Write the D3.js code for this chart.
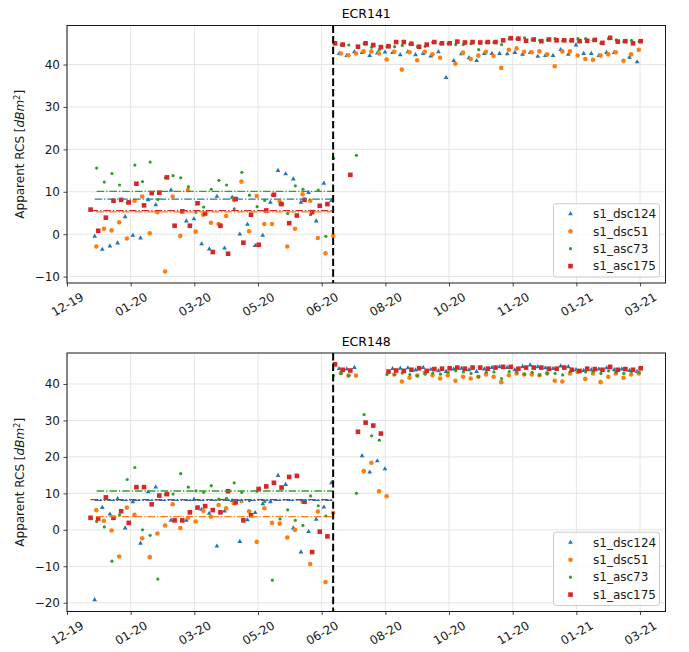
<!DOCTYPE html>
<meta charset="utf-8">
<title>ECR141 / ECR148</title>
<body>
<script src="https://cdn.jsdelivr.net/npm/d3@7"></script>
<style>
html, body {
    margin: 0;
    background: #fff;
}
svg {
    display: block;
    font-family: "DejaVu Sans", sans-serif;
}
</style>
<script>
// tracks, in plotting order
var seriesNames = ["s1_dsc124", "s1_dsc51", "s1_asc73", "s1_asc175"];
var seriesColors = ["#1f77b4", "#ff7f0e", "#2ca02c", "#d62728"];

// first acquisition of each track, then one pass every 6 days
var firstPass = ["2019-12-28 17:00", "2019-12-30 00:00", "2019-12-30 07:00", "2019-12-25 12:00"];
var revisitDays = 6;

var eventDate = "2020-07-03";
var xStart = "2019-12-07", xEnd = "2021-03-21";
var tickDates = ["2019-12-07", "2020-01-26", "2020-03-16", "2020-05-05", "2020-06-24",
                 "2020-08-13", "2020-10-02", "2020-11-21", "2021-01-10", "2021-03-01"];

// ECR141, one value per pass (null = no point)
var ecr141_dsc124 = [-0.5, -3.6, -2.8, -2.1, 4.1, -0.3, -0.9, 8.1, 6.9, null, 10.4, null, 3.1, 3.6, -2.3, -3.5,
    8.9, -3.3, 8.7, 0.0, 2.3, -2.7, -0.3, 7.5, 15.0, 14.2, 13.0, 7.5, 9.8, 3.1, 12.0, 7.9,
    42.6, 42.1, 43.0, 42.8, 42.1, 42.7, 42.9, 42.8, 42.3, 43.0, 42.3, 42.6, 42.0, 43.0, 36.9, 40.9,
    42.5, 41.6, 40.9, 42.6, 42.6, 42.6, 42.5, 42.8, 42.4, 42.8, 41.9, 42.1, 42.1, 43.5, 42.4, 44.6,
    42.6, 42.6, 42.1, 42.8, 42.8, null, 41.7, 40.6];
var ecr141_dsc51 = [-2.9, 1.3, 0.9, 2.8, -1.0, 7.9, 8.9, 0.2, 5.2, -8.8, 8.9, -0.4, 10.4, 0.6, 4.6, 2.7,
    2.4, 4.3, 8.1, 12.4, 0.7, 9.0, 2.4, 2.4, 7.7, -2.9, 1.3, 9.4, 7.9, -0.9, -4.5, -0.3,
    42.6, 42.2, 42.6, 43.1, 43.1, 42.6, 41.2, 43.0, 38.8, 42.9, 41.0, 43.0, 42.4, 41.6, null, 40.2,
    42.8, 41.3, 42.1, 43.0, 42.0, 39.2, 43.5, 43.8, 43.0, 42.9, 43.1, 42.4, 39.6, 43.1, 43.1, 42.1,
    41.3, 41.1, 42.1, 42.4, 42.9, 40.9, 42.4, 43.5];
var ecr141_asc73 = [15.6, 12.3, 14.3, 11.6, 7.4, 16.3, 12.4, 17.0, 8.2, 13.3, 13.8, 13.3, 11.2, 5.2, 6.4, 10.6,
    12.7, 11.6, 6.0, 14.6, 9.2, 6.5, 8.0, 9.2, 7.0, 4.9, 11.4, 10.6, 4.6, 10.4, -0.5, 17.9,
    44.6, 44.6, 18.6, 44.9, 44.1, 43.5, 44.2, 44.2, 44.5, 44.8, 44.2, 44.3, 45.2, 44.9, 44.9, 44.7,
    44.7, 44.9, 43.5, 45.2, 45.2, 44.7, 46.1, 46.0, 46.3, 45.8, 45.7, 45.8, 46.1, 45.6, 45.6, 46.1,
    46.1, 45.7, 45.0, 46.1, 45.8, 45.4, 45.7, 45.4];
var ecr141_asc175 = [5.8, 0.8, 3.9, 7.9, 8.1, 7.5, 11.9, 6.8, 9.7, 9.8, 13.4, 2.0, 5.4, 2.0, 7.3, 4.9,
    -4.2, 2.0, -4.6, 8.3, -2.0, 4.6, -2.5, 5.6, 9.3, 7.1, 2.6, 4.4, 8.1, 5.2, 6.7, 7.1,
    45.0, 44.7, 14.0, 44.2, 45.0, 44.6, 44.1, 44.3, 45.3, 45.3, 44.9, 44.2, 44.7, 45.3, 45.0, 45.0,
    45.4, 45.2, 45.3, 45.2, 45.3, 45.3, 45.7, 46.2, 46.1, 45.6, 45.9, 45.5, 45.9, 45.7, 45.7, 45.7,
    45.5, 45.6, 45.8, 45.1, 46.3, 45.4, 45.5, 45.0, 45.5];

// ECR148
var ecr148_dsc124 = [-19.2, 6.1, 4.3, 8.5, 0.5, 7.7, -3.7, 10.4, 11.7, null, 2.6, null, 2.6, 8.3, 5.6, 4.5,
    -4.5, 5.1, 8.0, -3.2, 2.7, 4.7, 7.1, 7.7, 14.9, 12.4, 0.5, -6.1, -0.5, 2.9, 6.2, 12.9,
    44.2, 44.1, 44.5, 20.3, 15.8, 18.9, 16.7, 44.2, 44.3, 44.4, 43.8, 44.5, 44.0, 43.6, 43.4, 44.1,
    44.3, 43.9, 43.4, 44.1, 44.5, 44.7, 44.5, 43.9, 44.8, 45.2, 44.7, 44.4, 44.2, 44.9, 44.7, 43.9,
    43.7, 43.9, 44.1, 44.4, 43.9, 44.1, 43.7, 43.4];
var ecr148_dsc51 = [5.4, 2.5, -0.2, -7.3, 6.1, 4.1, -2.3, -7.5, -1.0, 1.2, 7.0, 0.5, 3.3, 2.3, 5.2, 3.6,
    6.8, 5.9, 7.3, 7.9, 5.1, -3.3, 5.9, 1.9, 1.7, -2.1, 0.0, 7.7, -9.4, 5.0, -14.3, 4.7,
    43.0, 42.3, 42.3, 16.1, 18.4, 10.6, 9.2, 42.6, 40.7, 41.7, 42.3, 43.1, 42.4, 41.5, 42.4, 40.9,
    42.0, 41.5, 42.0, 42.6, 42.0, 40.5, 42.4, 42.9, 42.6, 42.6, 42.4, 42.9, 40.9, 40.7, 42.9, 43.3,
    41.4, 42.9, 40.5, 42.0, 42.9, 41.7, 42.6, 42.9];
var ecr148_asc73 = [2.3, 0.8, -8.6, 4.1, 13.8, 17.1, 0.0, -1.5, -13.5, 9.7, 9.8, 15.4, 11.7, 10.7, 10.3, 12.1,
    8.4, 8.6, 12.9, 10.3, 8.0, 10.6, 7.7, -13.8, 3.0, 5.5, 2.6, 1.2, 9.3, 6.6, 3.8, 42.3,
    42.9, 42.3, 10.0, 31.6, 25.8, 24.6, 42.6, 42.6, 43.0, 42.6, 42.3, 42.7, 43.0, 42.7, 43.2, 43.6,
    43.3, 42.9, 42.0, 43.2, 43.3, 41.5, 43.4, 43.2, 42.7, 43.2, 42.5, 42.9, 42.9, 42.5, 43.4, 43.6,
    43.3, 43.4, 42.9, 43.6, 43.2, 42.9, 43.4, 43.2];
var ecr148_asc175 = [3.3, 3.1, 8.9, 3.3, 5.1, 1.9, 11.7, 11.7, 7.0, 9.4, 9.8, 2.6, 2.6, 4.8, 6.1, 6.5,
    5.4, 4.8, 10.6, 7.5, 2.6, 4.0, 11.2, 11.9, 12.9, 11.6, 14.5, 14.8, 7.7, -6.1, -0.5, -1.8,
    45.4, 43.9, 43.7, 26.9, 29.4, 28.6, 26.4, 43.4, 43.7, 43.6, 43.9, 44.3, 43.6, 44.1, 44.2, 44.3,
    44.5, 44.2, 44.5, 44.5, 44.2, 44.5, 44.7, 44.7, 44.2, 44.5, 44.5, 44.5, 44.2, 44.2, 44.5, 43.9,
    43.6, 44.2, 44.1, 43.9, 44.7, 43.9, 44.1, 43.9, 44.3];

// mean level before the event (dsc124, dsc51, asc73, asc175)
var meanBefore141 = [8.25, 5.26, 10.1, 5.58];
var meanBefore148 = [8.1, 3.6, 10.65, 8.3];

var yTicks141 = [-10, 0, 10, 20, 30, 40];
var yTicks148 = [-20, -10, 0, 10, 20, 30, 40];

var panels = [
    {title: "ECR141", values: [ecr141_dsc124, ecr141_dsc51, ecr141_asc73, ecr141_asc175],
     means: meanBefore141, yTicks: yTicks141, yDomain: [-11.5, 49.2], top: 25.5, bottom: 283},
    {title: "ECR148", values: [ecr148_dsc124, ecr148_dsc51, ecr148_asc73, ecr148_asc175],
     means: meanBefore148, yTicks: yTicks148, yDomain: [-22.4, 48.5], top: 353, bottom: 611.5}
];

var width = 689,
    height = 652,
    left = 67,
    right = 665.5,
    ink = "#1a1a1a";

var parseDay = d3.timeParse("%Y-%m-%d"),
    parseTime = d3.timeParse("%Y-%m-%d %H:%M");

var svg = d3.select("body").append("svg")
    .attr("width", width)
    .attr("height", height)
    .style("background", "#fff");

var x = d3.scaleTime()
    .domain([parseDay(xStart), parseDay(xEnd)])
    .range([left, right]);

function passDate(s, i) {
    return d3.timeHour.offset(parseTime(firstPass[s]), 24 * revisitDays * i);
}

function addMarker(sel, s) {
    if (s === 0) {
        sel.append("path").attr("d", d3.symbol(d3.symbolTriangle, 10)());
    } else if (s === 1) {
        sel.append("circle").attr("r", 2.3);
    } else if (s === 2) {
        sel.append("circle").attr("r", 1.6);
    } else {
        sel.append("rect").attr("x", -2.3).attr("y", -2.3).attr("width", 4.6).attr("height", 4.6);
    }
}

panels.forEach(function(p) {
    var y = d3.scaleLinear().domain(p.yDomain).range([p.bottom, p.top]);
    var g = svg.append("g");

    // grid
    g.append("g").selectAll("line")
        .data(tickDates)
        .enter().append("line")
        .attr("x1", function(d) { return x(parseDay(d)); })
        .attr("x2", function(d) { return x(parseDay(d)); })
        .attr("y1", p.top)
        .attr("y2", p.bottom)
        .attr("stroke", "#e4e4e4");
    g.append("g").selectAll("line")
        .data(p.yTicks)
        .enter().append("line")
        .attr("x1", left)
        .attr("x2", right)
        .attr("y1", function(d) { return y(d); })
        .attr("y2", function(d) { return y(d); })
        .attr("stroke", "#e4e4e4");

    // points
    seriesNames.forEach(function(name, s) {
        var pts = p.values[s].map(function(v, i) {
            return {date: passDate(s, i), value: v};
        }).filter(function(d) { return d.value !== null; });

        g.append("g")
            .attr("fill", seriesColors[s])
            .selectAll("g")
            .data(pts)
            .enter().append("g")
            .attr("transform", function(d) {
                return "translate(" + [x(d.date), y(d.value)] + ")";
            })
            .each(function() { addMarker(d3.select(this), s); });
    });

    // mean level before the event
    g.append("g").selectAll("line")
        .data(p.means)
        .enter().append("line")
        .attr("x1", function(d, s) { return x(parseTime(firstPass[s])); })
        .attr("x2", x(parseDay(eventDate)))
        .attr("y1", function(d) { return y(d); })
        .attr("y2", function(d) { return y(d); })
        .attr("stroke", function(d, s) { return seriesColors[s]; })
        .attr("stroke-width", 1.3)
        .attr("stroke-dasharray", "7.5,2,1.3,2");

    // event line
    g.append("line")
        .attr("x1", x(parseDay(eventDate)))
        .attr("x2", x(parseDay(eventDate)))
        .attr("y1", p.top)
        .attr("y2", p.bottom)
        .attr("stroke", "#000")
        .attr("stroke-width", 2)
        .attr("stroke-dasharray", "7.4,3.2");

    // frame
    g.append("rect")
        .attr("x", left)
        .attr("y", p.top)
        .attr("width", right - left)
        .attr("height", p.bottom - p.top)
        .attr("fill", "none")
        .attr("stroke", ink)
        .attr("stroke-width", 1);

    // axes
    var xAxis = g.append("g")
        .attr("transform", "translate(0," + p.bottom + ")")
        .call(d3.axisBottom(x)
            .tickValues(tickDates.map(parseDay))
            .tickFormat(d3.timeFormat("%m-%y"))
            .tickSize(3.5)
            .tickPadding(3.5))
        .attr("font-family", null)
        .attr("font-size", 12);
    xAxis.select(".domain").remove();
    xAxis.selectAll("line").attr("stroke", ink).attr("stroke-width", 0.8);
    xAxis.selectAll("text")
        .attr("y", 0)
        .attr("dy", "0.35em")
        .attr("transform", "translate(0,21.5) rotate(-30)")
        .attr("text-anchor", "middle")
        .attr("fill", ink);

    var yAxis = g.append("g")
        .attr("transform", "translate(" + left + ",0)")
        .call(d3.axisLeft(y)
            .tickValues(p.yTicks)
            .tickFormat(d3.format("d"))
            .tickSize(3.5)
            .tickPadding(3.5))
        .attr("font-family", null)
        .attr("font-size", 12);
    yAxis.select(".domain").remove();
    yAxis.selectAll("line").attr("stroke", ink).attr("stroke-width", 0.8);
    yAxis.selectAll("text").attr("fill", ink);

    // title and y label
    g.append("text")
        .attr("x", (left + right) / 2)
        .attr("y", p.top - 7.5)
        .attr("text-anchor", "middle")
        .attr("font-size", 12.5)
        .attr("fill", "#000")
        .text(p.title);

    var ylab = g.append("text")
        .attr("transform", "translate(19.5," + (p.top + p.bottom) / 2 + ") rotate(-90)")
        .attr("text-anchor", "middle")
        .attr("dy", "0.35em")
        .attr("font-size", 12)
        .attr("fill", ink);
    ylab.append("tspan").text("Apparent RCS [");
    ylab.append("tspan").attr("font-style", "italic").text("dBm");
    ylab.append("tspan").attr("font-size", 8.5).attr("dy", "-0.45em").text("2");
    ylab.append("tspan").attr("dy", "0.32em").text("]");

    // legend
    var boxW = 106, boxH = 73.3,
        bx = right - 6 - boxW,
        by = p.bottom - 6 - boxH;
    var lg = g.append("g").attr("transform", "translate(" + [bx, by] + ")");
    lg.append("rect")
        .attr("width", boxW)
        .attr("height", boxH)
        .attr("rx", 2.5)
        .attr("fill", "#fff")
        .attr("fill-opacity", 0.8)
        .attr("stroke", "#cccccc");
    var rows = lg.selectAll("g.row")
        .data(seriesNames)
        .enter().append("g")
        .attr("class", "row")
        .attr("transform", function(d, i) { return "translate(0," + (10.2 + i * 17.4) + ")"; });
    rows.append("g")
        .attr("transform", "translate(17,0)")
        .attr("fill", function(d, i) { return seriesColors[i]; })
        .each(function(d, i) { addMarker(d3.select(this), i); });
    rows.append("text")
        .attr("x", 39.5)
        .attr("dy", "0.35em")
        .attr("font-size", 12)
        .attr("fill", ink)
        .text(function(d) { return d; });
});
</script>
